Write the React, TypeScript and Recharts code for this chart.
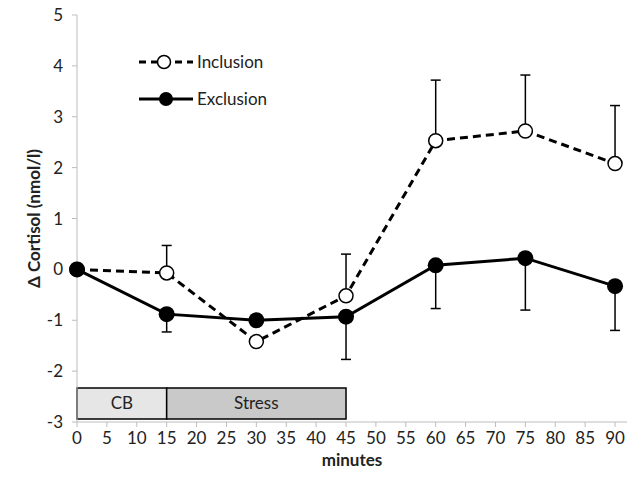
import {
  ComposedChart,
  ErrorBar,
  Line,
  ReferenceArea,
  XAxis,
  YAxis,
} from "recharts";

const minutes = [0, 15, 30, 45, 60, 75, 90];
const inclusion = [0, -0.07, -1.42, -0.52, 2.53, 2.72, 2.08];
const inclusionUp = [0, 0.54, 0, 0.82, 1.19, 1.1, 1.14];
const exclusion = [0, -0.88, -1.0, -0.93, 0.08, 0.22, -0.33];
const exclusionDown = [0, 0.35, 0, 0.84, 0.85, 1.02, 0.87];

const xTicks = [0, 5, 10, 15, 20, 25, 30, 35, 40, 45, 50, 55, 60, 65, 70, 75, 80, 85, 90];
const yTicks = [-3, -2, -1, 0, 1, 2, 3, 4, 5];

const phases = [
  { name: "CB", start: 0, end: 15, fill: "#e6e6e6" },
  { name: "Stress", start: 15, end: 45, fill: "#c9c9c9" },
];
const phaseBand = [-2.94, -2.33];

const data = minutes.map((m, i) => ({
  minute: m,
  inclusion: inclusion[i],
  inclusionErr: [0, inclusionUp[i]],
  exclusion: exclusion[i],
  exclusionErr: [exclusionDown[i], 0],
}));

const FONT = "Lato, 'Open Sans', sans-serif";
const AXIS = "#bdbdbd";

function LegendBox() {
  return (
    <svg width={180} height={70} style={{ position: "absolute", left: 137, top: 50 }}>
      <line x1={2} y1={12} x2={56} y2={12} stroke="#000" strokeWidth={3} strokeDasharray="7 5" />
      <circle cx={27} cy={12} r={6.5} fill="#fff" stroke="#000" strokeWidth={1.5} />
      <text x={60} y={18} fontSize={17} fontFamily={FONT} fill="#222">Inclusion</text>
      <line x1={2} y1={49} x2={56} y2={49} stroke="#000" strokeWidth={3} />
      <circle cx={29} cy={49} r={7} fill="#000" />
      <text x={60} y={55} fontSize={17} fontFamily={FONT} fill="#222">Exclusion</text>
    </svg>
  );
}

export default function App() {
  return (
    <div style={{ position: "absolute", left: 0, top: 0, width: 640, height: 480, background: "#fff" }}>
      <ComposedChart
        width={640}
        height={480}
        data={data}
        margin={{ top: 15, right: 13, bottom: 14, left: 0 }}
      >
        <XAxis
          dataKey="minute"
          type="number"
          domain={[0, 92]}
          ticks={xTicks}
          interval={0}
          tick={{ fontSize: 17, fill: "#222", fontFamily: FONT }}
          tickLine={{ stroke: AXIS }}
          tickSize={5}
          tickMargin={5}
          axisLine={{ stroke: AXIS }}
          height={44}
          label={{
            value: "minutes",
            position: "insideBottom",
            offset: 0,
            fontSize: 17,
            fontWeight: 700,
            fill: "#222",
            fontFamily: FONT,
          }}
        />
        <YAxis
          type="number"
          domain={[-3, 5]}
          ticks={yTicks}
          interval={0}
          width={77}
          tick={{ fontSize: 17, fill: "#222", fontFamily: FONT }}
          tickLine={{ stroke: AXIS }}
          tickSize={5}
          tickMargin={9}
          axisLine={{ stroke: AXIS }}
          label={{
            value: "Δ Cortisol (nmol/l)",
            angle: -90,
            position: "insideLeft",
            offset: 34,
            style: { textAnchor: "middle" },
            fontSize: 17,
            fontWeight: 700,
            fill: "#222",
            fontFamily: FONT,
          }}
        />
        {phases.map((p) => (
          <ReferenceArea
            key={p.name}
            x1={p.start}
            x2={p.end}
            y1={phaseBand[0]}
            y2={phaseBand[1]}
            fill={p.fill}
            fillOpacity={1}
            stroke="#000"
            strokeWidth={1.5}
            label={{ value: p.name, position: "center", fontSize: 17, fill: "#222", fontFamily: FONT }}
          />
        ))}
        <Line
          dataKey="inclusion"
          name="Inclusion"
          type="linear"
          stroke="#000"
          strokeWidth={3}
          strokeDasharray="8 5"
          dot={false}
          isAnimationActive={false}
        >
          <ErrorBar dataKey="inclusionErr" direction="y" width={5} stroke="#000" strokeWidth={1.5} />
        </Line>
        {/* markers redrawn on top so the zero-length caps stay hidden */}
        <Line
          dataKey="inclusion"
          type="linear"
          stroke="none"
          dot={{ r: 7, fill: "#fff", stroke: "#000", strokeWidth: 1.5 }}
          legendType="none"
          isAnimationActive={false}
        />
        <Line
          dataKey="exclusion"
          name="Exclusion"
          type="linear"
          stroke="#000"
          strokeWidth={3}
          dot={{ r: 8, fill: "#000", stroke: "#000", strokeWidth: 0 }}
          isAnimationActive={false}
        >
          <ErrorBar dataKey="exclusionErr" direction="y" width={5} stroke="#000" strokeWidth={1.5} />
        </Line>
      </ComposedChart>
      <LegendBox />
    </div>
  );
}
